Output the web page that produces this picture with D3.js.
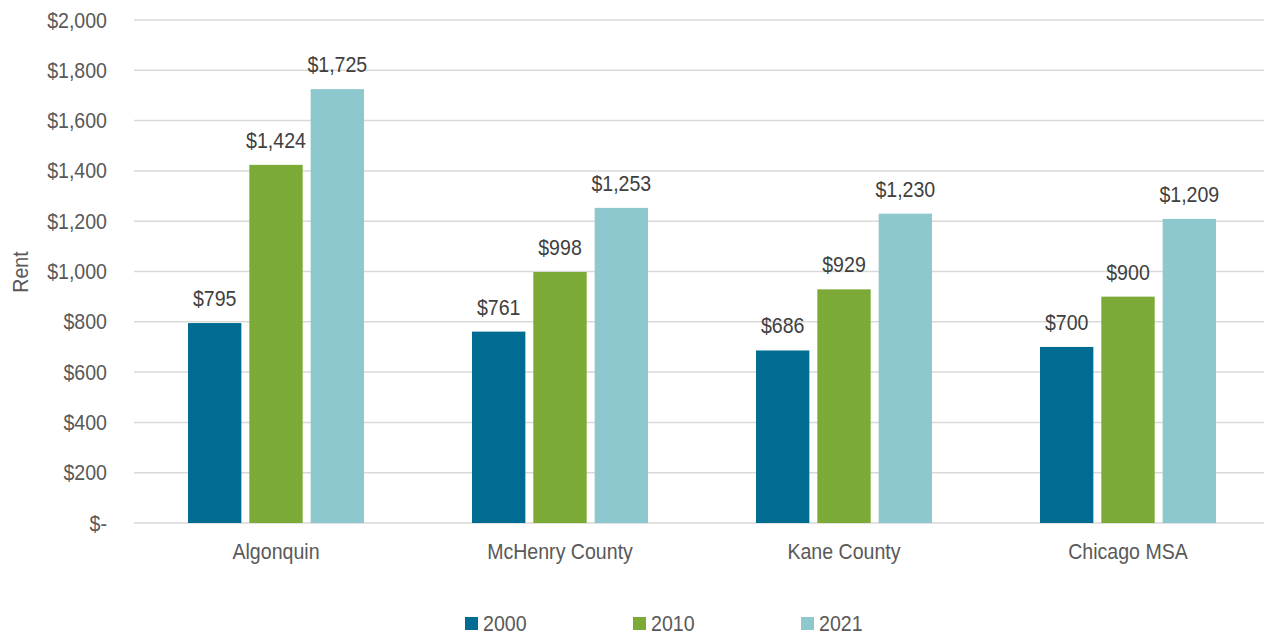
<!DOCTYPE html>
<html>
<head>
<meta charset="utf-8">
<script src="https://cdn.jsdelivr.net/npm/d3@7"></script>
<style>
  body { margin: 0; background: #fff; }
  text { font-family: "Liberation Sans", Arial, sans-serif; fill: #595959; font-size: 22px; }
</style>
</head>
<body>
<div id="chart"></div>
<script>
var categories = ["Algonquin", "McHenry County", "Kane County", "Chicago MSA"];
var years = ["2000", "2010", "2021"];
var rent2000 = [795, 761, 686, 700];
var rent2010 = [1424, 998, 929, 900];
var rent2021 = [1725, 1253, 1230, 1209];
var yTicks = [0, 200, 400, 600, 800, 1000, 1200, 1400, 1600, 1800, 2000];
var colors = ["#006C91", "#7BAA36", "#8DC8CF"];

var series = [rent2000, rent2010, rent2021];

var width = 1264,
    height = 637;

// 文字横向压缩，接近原图的窄字体
var squeeze = "scale(0.89,1)";

var svg = d3.select("#chart").append("svg")
    .attr("width", width)
    .attr("height", height);

// scales
var x = d3.scaleBand().domain(categories).range([134, 1270]);
var y = d3.scaleLinear().domain([0, 2000]).range([523, 20]);
var xInner = d3.scaleBand().domain(years).range([54, x.bandwidth() - 54]).paddingInner(0.13);

var fmt = function (v) { return v === 0 ? "$-" : "$" + d3.format(",")(v); };

// gridlines
svg.append("g").selectAll("line")
    .data(yTicks)
    .enter().append("line")
    .attr("x1", 134).attr("x2", width)
    .attr("y1", function (d) { return y(d); })
    .attr("y2", function (d) { return y(d); })
    .attr("stroke", "#d9d9d9")
    .attr("stroke-width", 1.5);

// y axis labels
var yAxis = d3.axisLeft(y).tickValues(yTicks).tickFormat(fmt).tickSize(0).tickPadding(0);
var ya = svg.append("g").attr("transform", "translate(107,0)").call(yAxis);
ya.select(".domain").remove();
ya.selectAll("text")
    .attr("fill", "#595959")
    .attr("font-size", null)
    .attr("font-family", null)
    .attr("transform", squeeze);
ya.attr("font-size", null).attr("font-family", null);

// y title
svg.append("text")
    .attr("transform", "translate(28,272) rotate(-90) " + squeeze)
    .attr("text-anchor", "middle")
    .text("Rent");

// bars
var groups = svg.append("g").selectAll("g")
    .data(categories)
    .enter().append("g")
    .attr("transform", function (d) { return "translate(" + x(d) + ",0)"; });

groups.each(function (cat, ci) {
    var g = d3.select(this);
    years.forEach(function (yr, si) {
        var v = series[si][ci];
        g.append("rect")
            .attr("x", xInner(yr))
            .attr("y", y(v))
            .attr("width", xInner.bandwidth())
            .attr("height", y(0) - y(v))
            .attr("fill", colors[si]);
        g.append("text")
            .attr("transform", "translate(" + (xInner(yr) + xInner.bandwidth() / 2) + "," + (y(v) - 17) + ") " + squeeze)
            .attr("text-anchor", "middle")
            .style("fill", "#404040")
            .text(fmt(v));
    });
});

// x labels
var xAxis = d3.axisBottom(x).tickSize(0).tickPadding(0);
var xa = svg.append("g").attr("transform", "translate(0,543)").call(xAxis);
xa.select(".domain").remove();
xa.attr("font-size", null).attr("font-family", null);
xa.selectAll("text")
    .attr("fill", "#595959")
    .attr("transform", squeeze);

// legend
var legendX = [465, 633, 801];
var legend = svg.append("g").selectAll("g")
    .data(years)
    .enter().append("g")
    .attr("transform", function (d, i) { return "translate(" + legendX[i] + ",617)"; });
legend.append("rect")
    .attr("width", 13).attr("height", 13)
    .attr("fill", function (d, i) { return colors[i]; });
legend.append("text")
    .attr("transform", "translate(18,14) " + squeeze)
    .text(function (d) { return d; });
</script>
</body>
</html>
